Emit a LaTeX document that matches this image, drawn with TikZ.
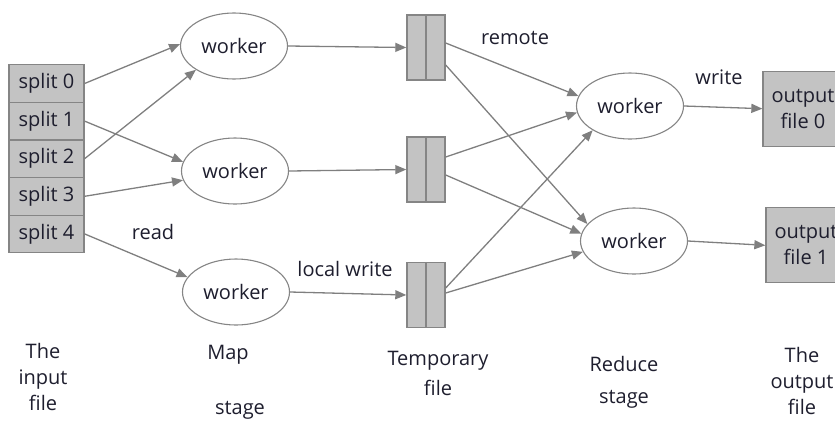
\documentclass[tikz,border=0pt]{standalone}
\usepackage{fontspec}
\setmainfont{Open Sans}
\usetikzlibrary{shapes.geometric,arrows.meta,calc}
\definecolor{boxfill}{HTML}{C3C3C3}
\definecolor{boxline}{HTML}{858585}
\definecolor{arrowc}{HTML}{7F7F7F}
\definecolor{txt}{HTML}{1E1E2E}
\begin{document}
\begin{tikzpicture}[x=1pt,y=-1pt,
  every node/.style={text=txt,font=\fontsize{20}{26}\selectfont,inner sep=0pt},
  splitbox/.style={draw=boxline,fill=boxfill,line width=1.2pt,minimum width=75pt,minimum height=37.6pt},
  workerell/.style={ellipse,draw=boxline,fill=white,line width=1.1pt,minimum width=107pt,minimum height=66pt},
  tempbox/.style={draw=boxline,fill=boxfill,line width=1.4pt,minimum width=38pt,minimum height=65pt},
  outbox/.style={draw=boxline,fill=boxfill,line width=1.3pt,minimum width=80pt,minimum height=75pt,align=center},
  conn/.style={draw=arrowc,line width=1.3pt,-{Triangle[length=11pt,width=9pt]}},
  caption/.style={align=center,font=\fontsize{20}{26}\selectfont}]
\useasboundingbox (0,0) rectangle (835,421);
% input splits
\node[splitbox] (s0) at (46.5,83.5) {split 0};
\node[splitbox] (s1) at (46.5,121.1) {split 1};
\node[splitbox] (s2) at (46.5,158.7) {split 2};
\node[splitbox] (s3) at (46.5,196.3) {split 3};
\node[splitbox] (s4) at (46.5,233.9) {split 4};
% map workers
\node[workerell] (w1) at (234,46) {worker};
\node[workerell] (w2) at (235,171) {worker};
\node[workerell] (w3) at (236,292) {worker};
% temporary files
\node[tempbox] (t1) at (426,47.5) {};
\node[tempbox] (t2) at (426,169.5) {};
\node[tempbox] (t3) at (426,295) {};
\foreach \t in {t1,t2,t3}{\draw[boxline,line width=1.4pt] (\t.north) -- (\t.south);}
% reduce workers
\node[workerell] (r1) at (630,106) {worker};
\node[workerell] (r2) at (634,241) {worker};
% output files
\node[outbox] (o0) at (803,108.7) {output\\file 0};
\node[outbox] (o1) at (806,245.3) {output\\file 1};
% read connectors
\draw[conn] (s0.east) -- (w1.178);
\draw[conn] (s2.east) -- (w1.212);
\draw[conn] (s1.east) -- (w2.170);
\draw[conn] (s3.east) -- (w2.190);
\draw[conn] (s4.east) -- (w3.163);
% local write
\draw[conn] (w1.east) -- (t1.west);
\draw[conn] (w2.east) -- (t2.west);
\draw[conn] (w3.east) -- (t3.west);
% remote
\draw[conn] ([yshift=4.5pt]t1.east) -- (r1.169);
\draw[conn] ([yshift=-17.5pt]t1.east) -- (r2.160);
\draw[conn] ([yshift=12.5pt]t2.east) -- (r1.187);
\draw[conn] ([yshift=-5.5pt]t2.east) -- (r2.172);
\draw[conn] ([yshift=7pt]t3.east) -- (r1.213);
\draw[conn] ([yshift=2pt]t3.east) -- (r2.192);
% write
\draw[conn] (r1.east) -- (o0.west);
\draw[conn] (r2.east) -- (o1.west);
% labels
\node (lremote) at (515,38) {remote};
\node (lread) at (153,232) {read};
\node (llocal) at (345,269) {local write};
\node (lwrite) at (719,77) {write};
% captions
\node[caption] (c1) at (43,377) {The\\input\\file};
\node (c2a) at (228,355) {Map};
\node (c2b) at (240,410) {stage};
\node[caption,font=\fontsize{20}{30}\selectfont] (c3) at (438,373) {Temporary\\file};
\node[caption,font=\fontsize{20}{32}\selectfont] (c4) at (624,382) {Reduce\\stage};
\node[caption] (c5) at (802,381) {The\\output\\file};
\end{tikzpicture}
\end{document}
